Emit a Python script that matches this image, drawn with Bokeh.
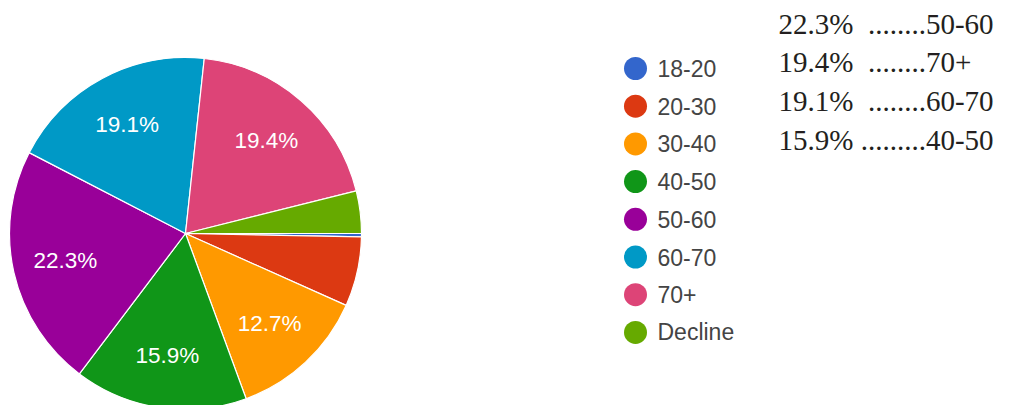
import math
from bokeh.plotting import figure
from bokeh.models import Range1d, ColumnDataSource
from bokeh.core.properties import value
from bokeh.embed import file_html
from bokeh.resources import INLINE

# ---- data ----
categories = ["18-20", "20-30", "30-40", "40-50", "50-60", "60-70", "70+", "Decline"]
percents = [0.3, 6.4, 12.7, 15.9, 22.3, 19.1, 19.4, 3.9]
colors = ["#3366cc", "#dc3912", "#ff9900", "#109618", "#990099", "#0099c6", "#dd4477", "#66aa00"]
label_min = 10.0

summary_pct = ["22.3%", "19.4%", "19.1%", "15.9%"]
summary_sep = ["\u00a0\u00a0........", "\u00a0\u00a0........", "\u00a0\u00a0........", "\u00a0........."]
summary_group = ["50-60", "70+", "60-70", "40-50"]

W, H = 1009, 405

def px(x):
    return x

def py(y):
    return H - y

p = figure(width=W, height=H, output_backend="svg", toolbar_location=None,
           x_range=Range1d(0, W), y_range=Range1d(0, H), min_border=0)
p.axis.visible = False
p.grid.visible = False
p.outline_line_color = None
p.background_fill_color = "white"
p.border_fill_color = "white"

cx, cy, R = px(185), py(233), 176
total = sum(percents)
offset = 0.0
starts, ends, lx, ly, labels = [], [], [], [], []
cum = 0.0
for c, v in zip(categories, percents):
    a0 = offset + cum / total * 360.0
    a1 = offset + (cum + v) / total * 360.0
    starts.append(math.radians(-a1))
    ends.append(math.radians(-a0))
    if v >= label_min:
        mid = math.radians(-(a0 + a1) / 2)
        lx.append(cx + 0.7 * R * math.cos(mid))
        ly.append(cy + 0.7 * R * math.sin(mid))
        labels.append(f"{v:.1f}%")
    cum += v

src = ColumnDataSource(dict(start=starts, end=ends, color=colors, cat=categories))
p.wedge(x=cx, y=cy, radius=R, start_angle="start", end_angle="end",
        fill_color="color", line_color="white", line_width=1.2, source=src)

p.text(x=lx, y=ly, text=labels, text_color="white", text_font=value("Liberation Sans"),
       text_font_size="22.5px", text_align="center", text_baseline="middle")

# legend
lgx = [px(635)] * len(categories)
lgy = [py(68 + 37.7 * i) for i in range(len(categories))]
p.scatter(x=lgx, y=lgy, size=23, marker="circle", fill_color=colors, line_color=None)
p.text(x=[px(657)] * len(categories), y=lgy, text=categories, text_color="#444444",
       text_font=value("Liberation Sans"), text_font_size="23px",
       text_align="left", text_baseline="middle")

# summary text
stext = [a + s + b for a, s, b in zip(summary_pct, summary_sep, summary_group)]
sy = [py(23 + 38.8 * i) for i in range(len(stext))]
p.text(x=[px(778)] * len(stext), y=sy, text=stext, text_color="#231f20",
       text_font=value("Liberation Serif"), text_font_size="29px",
       text_align="left", text_baseline="middle")

open("out.html", "w").write(file_html(p, INLINE))
